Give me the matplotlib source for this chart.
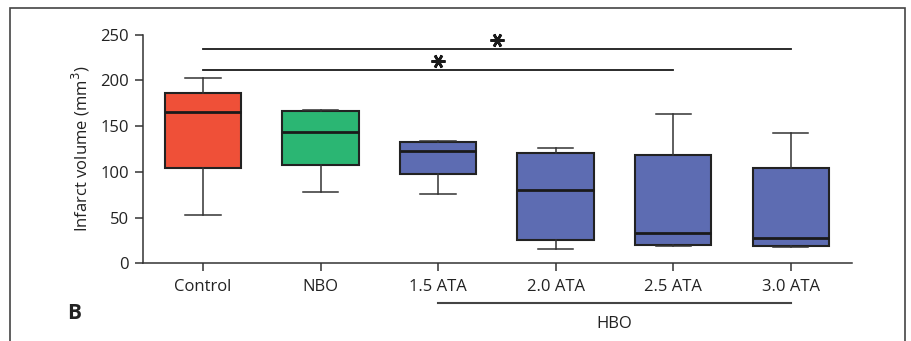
import matplotlib
matplotlib.use("Agg")
import matplotlib.pyplot as plt
from matplotlib.patches import Rectangle

plt.rcParams['font.family'] = ['Open Sans', 'DejaVu Sans']

groups = ["Control", "NBO", "1.5 ATA", "2.0 ATA", "2.5 ATA", "3.0 ATA"]
whisker_low = [53, 78, 76, 16, 18.6, 17.8]
q1 = [104, 107, 98, 25, 19.7, 18.9]
median = [165, 143, 123, 80, 33, 28]
q3 = [186, 166, 132, 121, 118, 104]
whisker_high = [203, 167, 134, 126, 163, 142]
colors = ["#EF5038", "#2BB673", "#5D6CB2", "#5D6CB2", "#5D6CB2", "#5D6CB2"]

# significance brackets: (from group, to group, height)
sig_pairs = [(0, 5, 234), (0, 4, 211)]
hbo_groups = (2, 5)

fig = plt.figure(figsize=(9.12, 3.41), dpi=100)
ax = fig.add_axes([0.1568, 0.2279, 0.9342 - 0.1568, 0.8988 - 0.2279])

stats = []
for i, g in enumerate(groups):
    stats.append(dict(label=g, whislo=whisker_low[i], q1=q1[i], med=median[i],
                      q3=q3[i], whishi=whisker_high[i], fliers=[]))

bp = ax.bxp(stats, positions=range(len(groups)), widths=0.65, patch_artist=True,
            showfliers=False,
            boxprops=dict(edgecolor="#222222", linewidth=1.5),
            medianprops=dict(color="#1a1a1a", linewidth=2.0),
            whiskerprops=dict(color="#333333", linewidth=1.1),
            capprops=dict(color="#333333", linewidth=1.1),
            capwidths=0.3)
for patch, c in zip(bp['boxes'], colors):
    patch.set_facecolor(c)

ax.set_xlim(-0.51, 5.52)
ax.set_ylim(0, 250)
ax.set_yticks([0, 50, 100, 150, 200, 250])
ax.set_xticks(range(len(groups)))
ax.set_xticklabels(groups)
for s in ("top", "right"):
    ax.spines[s].set_visible(False)
for s in ("left", "bottom"):
    ax.spines[s].set_color("#333333")
    ax.spines[s].set_linewidth(1.1)
ax.tick_params(axis="both", length=6, width=1.1, color="#333333",
               labelsize=12, labelcolor="#222222")
ax.tick_params(axis="x", pad=5)
ax.tick_params(axis="y", pad=4)
ax.set_ylabel("Infarct volume (mm$^3$)", fontsize=12, color="#222222", labelpad=6)

for a, b, h in sig_pairs:
    ax.plot([a, b], [h, h], color="#1a1a1a", lw=1.3, clip_on=False)
    ax.plot([(a + b) / 2], [h + 10], marker=(6, 2, 90), markersize=10,
            markeredgewidth=1.9, color="#1a1a1a", clip_on=False)

# HBO group bracket below the tick labels
trans = ax.get_xaxis_transform()
ax.plot([hbo_groups[0], hbo_groups[1]], [-0.175, -0.175], transform=trans,
        color="#444444", lw=1.5, clip_on=False)
ax.text((hbo_groups[0] + hbo_groups[1]) / 2, -0.23, "HBO", transform=trans,
        ha="center", va="top", fontsize=12, color="#222222")

fig.text(74 / 912, 1 - 313.5 / 341, "B", fontsize=15, fontweight="bold",
         ha="center", va="center", color="#222222")

# panel frame
fig.patches.append(Rectangle((10 / 912, -0.05), (905.5 - 10) / 912, 1.05 - 8 / 341,
                             transform=fig.transFigure, fill=False,
                             edgecolor="#444444", linewidth=1.2))

fig.savefig("out.png", dpi=100)
